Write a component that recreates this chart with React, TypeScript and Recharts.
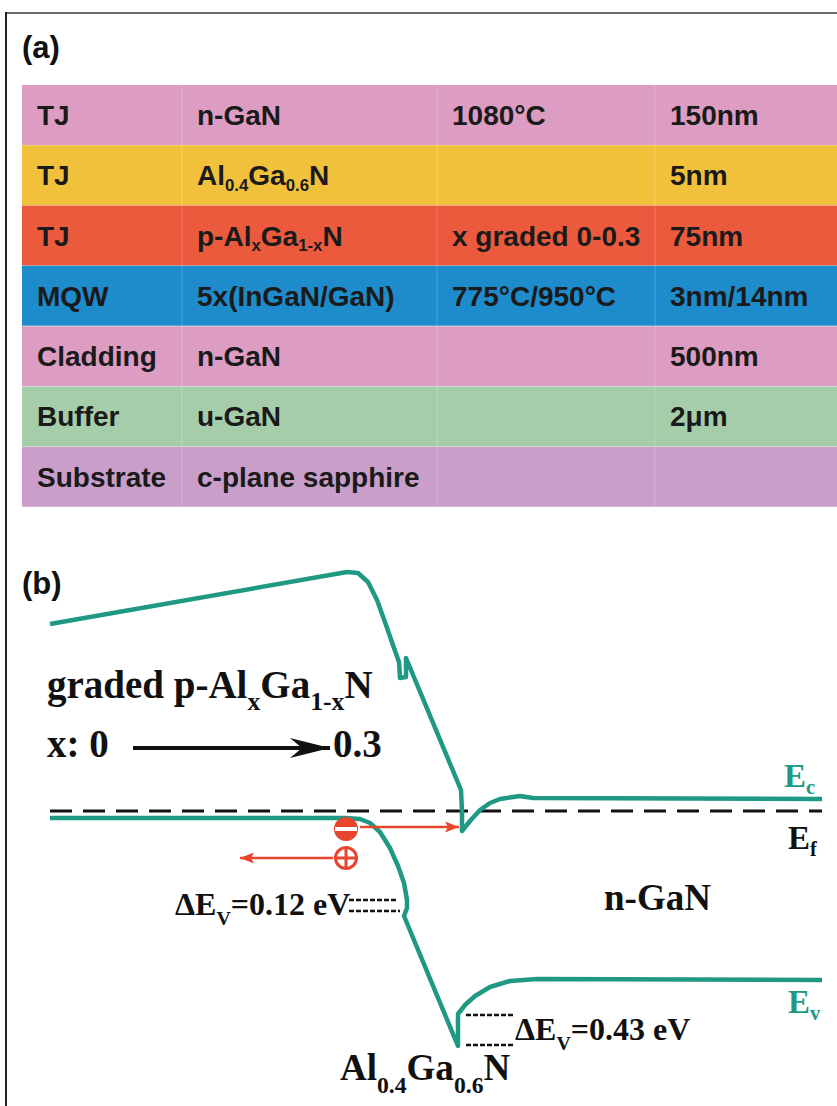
import React from 'react';
import { BarChart, Bar, XAxis, YAxis, Cell, LabelList, ComposedChart, Line, Scatter } from 'recharts';

// ---- (a) epitaxial stack table ----
const LAYERS = ['TJ', 'TJ', 'TJ', 'MQW', 'Cladding', 'Buffer', 'Substrate'];
const MATERIALS = ['n-GaN', 'Al_{0.4}Ga_{0.6}N', 'p-Al_{x}Ga_{1-x}N', '5x(InGaN/GaN)', 'n-GaN', 'u-GaN', 'c-plane sapphire'];
const TEMPS = ['1080°C', '', 'x graded 0-0.3', '775°C/950°C', '', '', ''];
const THICKNESS = ['150nm', '5nm', '75nm', '3nm/14nm', '500nm', '2μm', ''];
const ROW_COLORS = ['#dd9cc2', '#f2c13c', '#ec5a3e', '#1e8bcb', '#dd9cc2', '#a6cdaa', '#c99fca'];

// ---- (b) band diagram, position (a.u.) vs energy relative to E_f (a.u.) ----
const EC: [number, number][] = [
  [50, 187], [347, 239], [358, 238], [368, 229], [377, 211], [386, 186], [394, 163], [399, 149],
  [400, 133], [406, 134], [406, 153], [461, 21], [462, -1], [462, -20], [470, -10], [480, 1],
  [490, 8], [500, 12], [520, 15], [533, 13], [822, 12],
];
const EV: [number, number][] = [
  [50, -7], [345, -7], [360, -8], [370, -12], [380, -21], [390, -37], [398, -55], [404, -72],
  [407, -89], [407, -97], [404, -105], [458, -235], [458, -203], [465, -194], [475, -185],
  [490, -176], [510, -170], [537, -168], [822, -169],
];
const EF: [number, number][] = [[50, 0], [822, 0]];
const DEV_SMALL: [number, number][][] = [[[349, -89], [398, -89]], [[349, -100], [400, -100]]];
const DEV_LARGE: [number, number][][] = [[[466, -204], [515, -204]], [[466, -234], [515, -234]]];
const ELECTRON_PATH: [number, number][] = [[360, -16], [459, -16]];
const HOLE_PATH: [number, number][] = [[333, -47], [240, -47]];
const CARRIERS = [{ x: 346, e: -18, kind: 'e' }, { x: 346, e: -47, kind: 'h' }];
const GRADING_ARROW: [number, number][] = [[133, 63], [330, 63]];

const TEAL = '#1f9884';
const RED = '#e8452f';
const SERIF = '"Liberation Serif", "DejaVu Serif", serif';
const SANS = '"Liberation Sans", Arial, sans-serif';

const toPts = (a: [number, number][]) => a.map(([x, e]) => ({ x, e }));

// text with _{sub} markup
function Rich({ x, y, text, size, color = '#111', family = SERIF, weight = 'bold', sub = 0.62, drop = 0.26 }: any) {
  const parts = text.split(/(_\{[^}]*\})/).filter(Boolean);
  let prev = false;
  return (
    <text x={x} y={y} fontSize={size} fill={color} fontFamily={family} fontWeight={weight}>
      {parts.map((p: string, i: number) => {
        const m = p.match(/^_\{(.*)\}$/);
        const isSub = !!m;
        const dy = ((isSub ? drop : 0) - (prev ? drop : 0)) * size;
        prev = isSub;
        return (
          <tspan key={i} dy={dy || undefined} fontSize={isSub ? size * sub : size}>
            {m ? m[1] : p}
          </tspan>
        );
      })}
    </text>
  );
}

const COL_TEXT = [15, 175, 430, 648];
const COL_SEP = [160, 415, 633];

function TableRow(props: any) {
  const { x, y, height, index } = props;
  const base = y + height / 2 + 10;
  const cells = [LAYERS[index], MATERIALS[index], TEMPS[index], THICKNESS[index]];
  return (
    <g>
      {COL_SEP.map((s) => (
        <line key={s} x1={x + s} x2={x + s} y1={y} y2={y + height} stroke="#ffffff" strokeOpacity={0.14} strokeWidth={1.5} />
      ))}
      {cells.map((c, i) => c ? (
        <Rich key={i} x={x + COL_TEXT[i]} y={base} text={c} size={28} family={SANS} sub={0.6} drop={0.2} color="#1a1a1a" />
      ) : null)}
    </g>
  );
}

function arrowDot(last: number, dir: 1 | -1, color: string, len: number, half: number, notch: number) {
  return (p: any) => {
    if (p.index !== last) return <g key={p.index} />;
    const { cx, cy } = p;
    const d = `M${cx},${cy} L${cx - dir * len},${cy - half} L${cx - dir * (len - notch)},${cy} L${cx - dir * len},${cy + half} Z`;
    return <path key={p.index} d={d} fill={color} stroke="none" />;
  };
}

function Carrier(p: any) {
  const { cx, cy, payload } = p;
  if (payload.kind === 'e') {
    return (
      <g>
        <circle cx={cx} cy={cy} r={12} fill={RED} />
        <rect x={cx - 11} y={cy - 2} width={22} height={4} fill="#fff" />
      </g>
    );
  }
  return (
    <g>
      <circle cx={cx} cy={cy} r={10.5} fill="#fff" stroke={RED} strokeWidth={3} />
      <line x1={cx - 10} x2={cx + 10} y1={cy} y2={cy} stroke={RED} strokeWidth={3} />
      <line x1={cx} x2={cx} y1={cy - 10} y2={cy + 10} stroke={RED} strokeWidth={3} />
    </g>
  );
}

const B_TOP = 520;
const B_H = 586;

export default function App() {
  const rows = LAYERS.map((l, i) => ({ id: `r${i}`, span: 1 }));
  const dotted = [...DEV_SMALL, ...DEV_LARGE];
  return (
    <div style={{ position: 'absolute', left: 0, top: 0, width: 837, height: 1106, background: '#fff', overflow: 'hidden' }}>
      <div style={{ position: 'absolute', left: 5, top: 12, width: 832, height: 2, background: '#6a6a6a' }} />
      <div style={{ position: 'absolute', left: 5, top: 12, width: 1.5, height: 1094, background: '#222' }} />

      <svg style={{ position: 'absolute', left: 0, top: 0 }} width={837} height={80}>
        <text x={22} y={58} fontFamily={SANS} fontWeight="bold" fontSize={31} fill="#111">(a)</text>
      </svg>

      <div style={{ position: 'absolute', left: 22, top: 85 }}>
        <BarChart layout="vertical" width={815} height={422} data={rows} margin={{ top: 0, right: 0, bottom: 0, left: 0 }} barCategoryGap={0}>
          <XAxis type="number" domain={[0, 1]} hide />
          <YAxis type="category" dataKey="id" hide />
          <Bar dataKey="span" isAnimationActive={false}>
            {rows.map((r, i) => <Cell key={r.id} fill={ROW_COLORS[i]} />)}
            <LabelList dataKey="span" content={TableRow} />
          </Bar>
        </BarChart>
      </div>

      <div style={{ position: 'absolute', left: 0, top: B_TOP }}>
        <ComposedChart width={837} height={B_H} margin={{ top: 0, right: 0, bottom: 0, left: 0 }}>
          <XAxis type="number" dataKey="x" domain={[0, 837]} hide allowDataOverflow />
          <YAxis type="number" dataKey="e" domain={[811 - 1106, 811 - 520]} hide allowDataOverflow />
          <Line data={toPts(EF)} dataKey="e" stroke="#111" strokeWidth={3} strokeDasharray="22 11" dot={false} isAnimationActive={false} />
          <Line data={toPts(EC)} dataKey="e" stroke={TEAL} strokeWidth={4.5} dot={false} isAnimationActive={false} strokeLinejoin="round" />
          <Line data={toPts(EV)} dataKey="e" stroke={TEAL} strokeWidth={4.5} dot={false} isAnimationActive={false} strokeLinejoin="round" />
          {dotted.map((seg, i) => (
            <Line key={`d${i}`} data={toPts(seg)} dataKey="e" stroke="#111" strokeWidth={2.5} strokeDasharray="5 2" dot={false} isAnimationActive={false} />
          ))}
          <Line data={toPts(ELECTRON_PATH)} dataKey="e" stroke={RED} strokeWidth={2.5} isAnimationActive={false}
            dot={arrowDot(1, 1, RED, 14, 5.5, 3)} activeDot={false} />
          <Line data={toPts(HOLE_PATH)} dataKey="e" stroke={RED} strokeWidth={2.5} isAnimationActive={false}
            dot={arrowDot(1, -1, RED, 14, 5.5, 3)} activeDot={false} />
          <Line data={toPts(GRADING_ARROW)} dataKey="e" stroke="#111" strokeWidth={4} isAnimationActive={false}
            dot={arrowDot(1, 1, '#111', 40, 10, 12)} activeDot={false} />
          <Scatter data={CARRIERS} dataKey="e" shape={Carrier} isAnimationActive={false} />
        </ComposedChart>
      </div>

      <svg style={{ position: 'absolute', left: 0, top: B_TOP, pointerEvents: 'none' }} width={837} height={B_H}>
        <g transform={`translate(0,${-B_TOP})`}>
          <text x={22} y={594} fontFamily={SANS} fontWeight="bold" fontSize={31} fill="#111">(b)</text>
          <Rich x={47} y={698} size={39} text="graded p-Al_{x}Ga_{1-x}N" sub={0.66} drop={0.3} />
          <Rich x={47} y={757} size={39} text="x: 0" />
          <Rich x={333} y={757} size={39} text="0.3" />
          <Rich x={784} y={787} size={33} text="E_{c}" color={TEAL} drop={0.2} />
          <Rich x={788} y={849} size={33} text="E_{f}" drop={0.2} />
          <Rich x={604} y={910} size={37} text="n-GaN" />
          <Rich x={175} y={915} size={32} text="ΔE_{V}=0.12 eV" drop={0.3} />
          <Rich x={515} y={1040} size={32} text="ΔE_{V}=0.43 eV" drop={0.3} />
          <Rich x={340} y={1080} size={37} text="Al_{0.4}Ga_{0.6}N" sub={0.64} drop={0.36} />
          <Rich x={788} y={1013} size={33} text="E_{v}" color={TEAL} drop={0.2} />
        </g>
      </svg>
    </div>
  );
}
